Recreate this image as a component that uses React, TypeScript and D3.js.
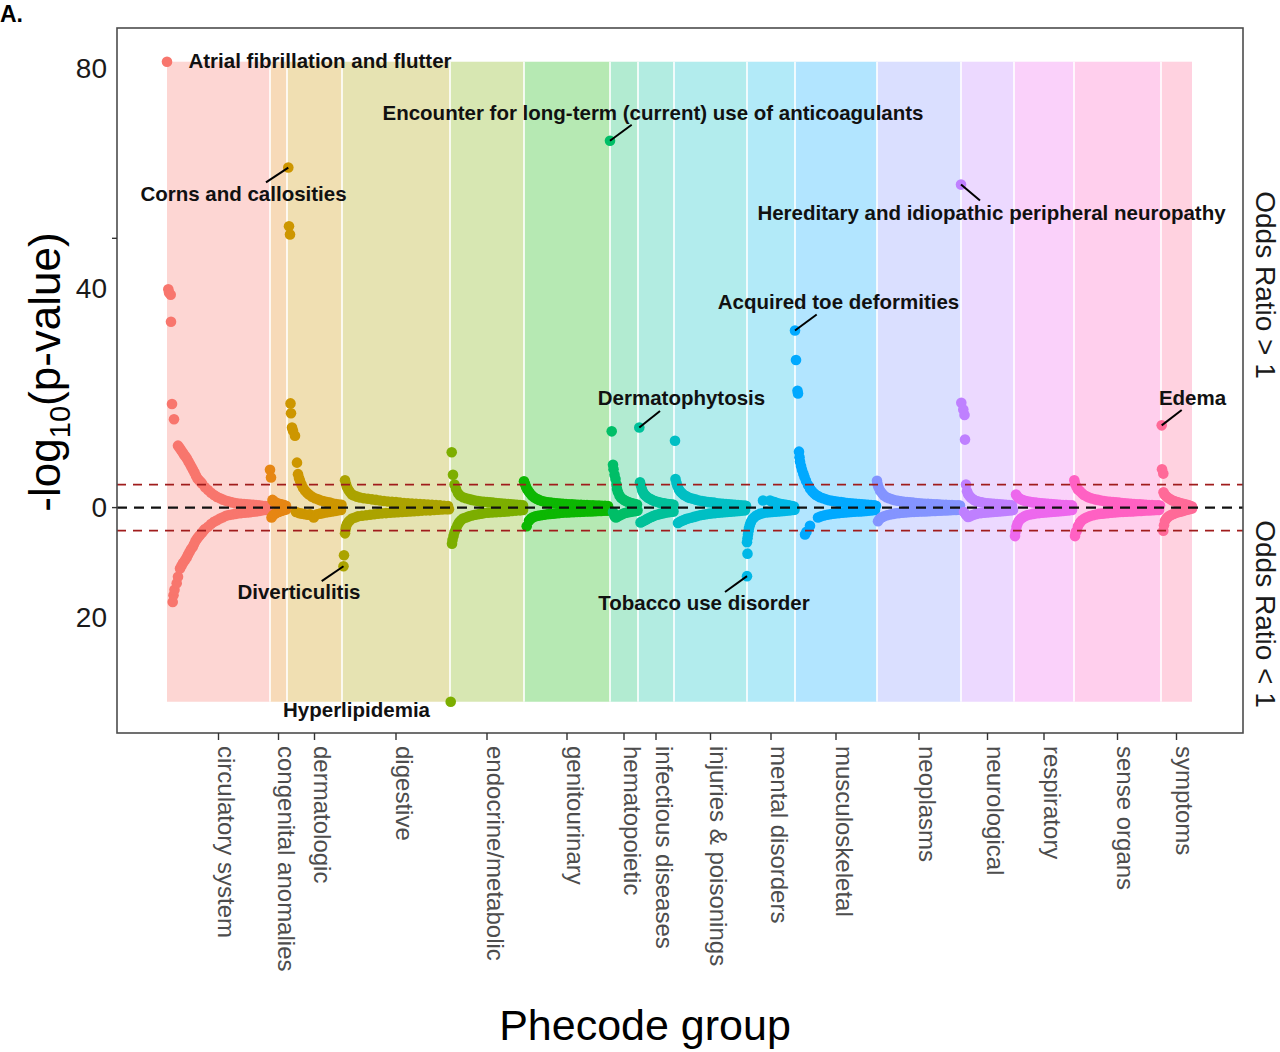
import React from "react";
import * as d3 from "d3";

// ---------- data ----------
const groups = [
  "circulatory system", "congenital anomalies", "dermatologic", "digestive",
  "endocrine/metabolic", "genitourinary", "hematopoietic", "infectious diseases",
  "injuries & poisonings", "mental disorders", "musculoskeletal", "neoplasms",
  "neurological", "respiratory", "sense organs", "symptoms",
];
const groupColors = [
  "#F8766D", "#E68613", "#CD9600", "#ABA300", "#7CAE00", "#0CB702", "#00BE67", "#00C19A",
  "#00BFC4", "#00B8E7", "#00A9FF", "#8494FF", "#BF80FF", "#ED68ED", "#FF61C3", "#FF6A98",
];
// phecode rank boundaries of each group
const bandEdges = [0, 103, 120, 175, 283, 357, 443, 471, 507, 580, 628, 710, 794, 847, 907, 994, 1025];

// [phecode rank, signed -log10(p)]  (positive: OR>1, negative: OR<1)
const circUp = [[0,81.3],[1.3,39.8],[2,39.2],[3.7,38.8],[4,33.9],[5,18.9],[7,16.1],[11,11.3],[12.5,10.9],[14,10.5],[15.5,10.1],[17,9.7],[18.5,9.3],[20,8.9],[21.5,8.4],[23,7.9],[24.5,7.4],[26,6.9],[27.5,6.4],[29,5.8],[30.5,5.3],[32,5.0],[33.5,4.7],[35,4.4],[38,3.7],[41,3.2],[44,2.7],[47,2.3],[50,1.95],[53,1.7],[56,1.45],[59,1.25],[62,1.1],[65,0.95],[68,0.85],[71,0.75],[74,0.7],[77,0.65],[80,0.6],[83,0.55],[86,0.5],[89,0.45],[92,0.4],[95,0.35],[98,0.3],[101,0.25]];
const circDown = [[5.7,-17.2],[6.5,-16.0],[7.5,-15.0],[9.7,-13.8],[11,-12.6],[13,-11.1],[14.5,-10.6],[16,-10.1],[18,-9.6],[19.7,-9.1],[21,-8.6],[22.5,-8.1],[24,-7.6],[25.7,-7.2],[27,-6.7],[28.5,-6.1],[30,-5.7],[31.5,-5.3],[33,-5.0],[35,-4.6],[36.5,-4.2],[38,-3.9],[41,-3.5],[44,-3.0],[47,-2.6],[50,-2.3],[53,-2.0],[56,-1.75],[59,-1.5],[62,-1.35],[65,-1.25],[68,-1.15],[71,-1.05],[74,-1.0],[77,-0.95],[80,-0.9],[83,-0.85],[86,-0.75],[89,-0.7],[92,-0.6],[95,-0.5],[98,-0.45],[101,-0.4]];
const congUp = [[103,6.9],[104,5.5],[105.5,1.4],[107,1.1],[109,0.9],[111,0.75],[113,0.65],[115,0.55],[117,0.45],[119,0.35]];
const congDown = [[104.5,-1.8],[106,-1.4],[108,-1.1],[110,-0.9],[112,-0.75],[114,-0.6],[116,-0.5],[118,-0.4],[119.5,-0.3]];
const dermUp = [[121.3,62.0],[122,51.3],[123,49.8],[123.5,19.0],[124,17.2],[125,14.6],[126,14.0],[128,13.1],[130,8.2],[131,6.1],[132,5.4],[133,4.9],[134.5,4.2],[136,3.6],[138,3.1],[140,2.7],[142,2.4],[145,2.0],[148,1.7],[151,1.5],[154,1.3],[157,1.15],[160,1.0],[163,0.9],[166,0.75],[169,0.65],[172,0.55],[174.5,0.5]];
const dermDown = [[129,-0.8],[132,-1.0],[135,-1.1],[138,-1.2],[141,-1.3],[143,-1.2],[146.7,-1.8],[150,-1.2],[153,-1.1],[156,-1.0],[159,-0.9],[162,-0.8],[165,-0.7],[168,-0.6],[171,-0.5],[174,-0.45]];
const digUp = [[178,5.0],[179,4.3],[180,3.7],[181.5,3.2],[183,2.8],[185,2.4],[187,2.2],[190,2.0],[193,1.85],[197,1.7],[201,1.6],[205,1.5],[209,1.4],[213,1.3],[217,1.2],[221,1.1],[225,1.05],[229,1.0],[233,0.9],[237,0.85],[241,0.8],[245,0.75],[249,0.7],[253,0.65],[257,0.6],[261,0.55],[265,0.5],[269,0.45],[273,0.4],[277,0.35],[281,0.3]];
const digDown = [[176.5,-10.7],[177,-8.7],[178,-4.7],[178.5,-4.0],[179,-3.5],[180,-3.0],[181.5,-2.6],[183,-2.3],[185,-2.0],[188,-1.8],[191,-1.6],[195,-1.5],[199,-1.4],[203,-1.3],[207,-1.2],[211,-1.1],[215,-1.05],[219,-1.0],[223,-0.95],[227,-0.9],[231,-0.85],[235,-0.8],[239,-0.75],[243,-0.7],[247,-0.65],[251,-0.6],[255,-0.55],[259,-0.5],[263,-0.5],[267,-0.45],[271,-0.4],[275,-0.35],[279,-0.3],[282,-0.3]];
const endoUp = [[284.7,10.1],[286,6.0],[287.5,4.2],[289,3.4],[291,2.6],[293,2.2],[296,1.9],[299,1.7],[302,1.55],[305,1.4],[308,1.3],[311,1.2],[314,1.1],[317,1.05],[320,1.0],[323,0.95],[326,0.9],[329,0.85],[332,0.8],[335,0.75],[338,0.7],[341,0.65],[344,0.6],[347,0.55],[350,0.5],[353,0.45],[356,0.4]];
const endoDown = [[283.7,-35.4],[285,-6.6],[285.5,-5.9],[286.5,-5.2],[287.5,-4.5],[289,-3.8],[290.5,-3.2],[292,-2.7],[294,-2.3],[296,-2.0],[299,-1.8],[302,-1.6],[305,-1.45],[308,-1.3],[311,-1.2],[314,-1.1],[317,-1.0],[321,-0.95],[325,-0.9],[329,-0.85],[333,-0.8],[337,-0.75],[341,-0.7],[345,-0.6],[349,-0.55],[353,-0.5],[356,-0.45]];
const genUp = [[357,4.8],[358,4.3],[359,3.8],[360,3.4],[361.5,3.0],[363,2.6],[365,2.2],[367,1.9],[369.5,1.6],[372,1.4],[375,1.2],[378,1.05],[381,0.95],[384,0.9],[387,0.85],[390,0.8],[393,0.75],[396,0.7],[399,0.65],[402,0.6],[405,0.58],[408,0.55],[411,0.52],[414,0.5],[417,0.48],[420,0.45],[423,0.42],[426,0.4],[429,0.38],[432,0.36],[435,0.34],[438,0.32],[441,0.3]];
const genDown = [[359.7,-3.4],[362,-2.4],[364,-2.0],[366,-1.75],[368.5,-1.6],[371,-1.5],[374,-1.4],[377,-1.3],[380,-1.2],[383,-1.15],[386,-1.1],[389,-1.05],[392,-1.0],[395,-0.95],[398,-0.9],[401,-0.88],[404,-0.85],[407,-0.82],[410,-0.8],[413,-0.78],[416,-0.75],[419,-0.72],[422,-0.7],[425,-0.68],[428,-0.65],[431,-0.62],[434,-0.6],[437,-0.58],[440,-0.55],[442,-0.5]];
const hemUp = [[443,66.9],[444.7,13.9],[446,7.8],[446.5,7.0],[447.5,6.0],[448.5,5.2],[449.5,4.2],[450,3.4],[451,2.8],[452.5,2.2],[454,1.8],[456,1.5],[458,1.3],[460,1.1],[462,0.95],[464,0.85],[466,0.75],[468,0.65],[470,0.55]];
const hemDown = [[446,-0.8],[447.5,-1.6],[449,-1.8],[451,-1.6],[453,-1.4],[455,-1.2],[457,-1.05],[459,-0.95],[461,-0.85],[463,-0.8],[465,-0.7],[467,-0.65],[469,-0.6],[470.5,-0.55]];
const infUp = [[472.3,14.6],[473,4.6],[474,4.0],[475,3.3],[476,2.8],[477.5,2.4],[479,2.1],[481,1.8],[483,1.6],[485,1.4],[487,1.25],[489,1.1],[491,1.0],[493,0.9],[495,0.85],[497,0.8],[499,0.7],[501,0.65],[503,0.6],[505,0.55],[506.5,0.5]];
const infDown = [[473.5,-2.7],[475,-2.6],[477,-2.4],[479,-2.2],[481,-2.0],[483,-1.8],[485,-1.65],[487,-1.5],[489,-1.35],[491,-1.25],[493,-1.15],[495,-1.05],[497,-1.0],[499,-0.9],[501,-0.85],[503,-0.8],[505,-0.75],[506.5,-0.7]];
const injUp = [[508,12.2],[508.5,5.2],[509.5,4.5],[510.5,3.9],[512,3.3],[513.5,2.9],[515,2.6],[517,2.3],[519,2.1],[521,1.9],[523,1.75],[526,1.6],[529,1.45],[532,1.3],[535,1.2],[538,1.1],[541,1.0],[544,0.95],[547,0.9],[550,0.8],[553,0.75],[556,0.7],[559,0.65],[562,0.6],[565,0.55],[568,0.5],[571,0.45],[574,0.42],[577,0.38],[579,0.35]];
const injDown = [[511,-2.8],[513,-2.6],[515,-2.4],[517,-2.25],[519,-2.1],[521,-2.0],[524,-1.85],[527,-1.7],[530,-1.55],[533,-1.4],[536,-1.3],[539,-1.2],[542,-1.1],[545,-1.05],[548,-1.0],[551,-0.95],[554,-0.9],[557,-0.85],[560,-0.8],[563,-0.75],[566,-0.7],[569,-0.65],[572,-0.6],[575,-0.55],[578,-0.5]];
const mentUp = [[596,1.3],[603,1.3],[605,1.1],[607.5,1.0],[610,0.85],[613,0.7],[616,0.6],[619,0.5],[622,0.4],[625,0.3],[627,0.2]];
const mentDown = [[580,-12.5],[580.5,-8.4],[580,-6.3],[580.5,-5.6],[581,-4.9],[581.5,-4.3],[582,-3.7],[583,-3.1],[584,-2.6],[585.5,-2.1],[587,-1.8],[589,-1.5],[591,-1.3],[593,-1.15],[596,-1.0],[599,-0.9],[602,-0.85],[605,-0.8],[608,-0.75],[611,-0.7],[614,-0.65],[617,-0.6],[620,-0.55],[623,-0.5],[626,-0.45],[627.5,-0.4]];
const muscUp = [[628,32.3],[629,26.9],[630.5,21.3],[631,20.8],[632,10.2],[632.5,9.2],[633,8.4],[634,7.6],[635,6.9],[636.3,6.2],[637.5,5.6],[639,4.9],[641,4.1],[643,3.5],[645,3.0],[647,2.6],[649,2.3],[651,2.1],[653,1.9],[656,1.7],[659,1.5],[662,1.35],[665,1.25],[668,1.15],[671,1.05],[674,1.0],[677,0.9],[680,0.85],[683,0.8],[686,0.75],[689,0.7],[692,0.65],[695,0.6],[698,0.55],[701,0.5],[704,0.45],[707,0.4],[709,0.35]];
const muscDown = [[638,-4.9],[639.5,-4.4],[643,-3.3],[651,-1.8],[654,-1.6],[657,-1.45],[660,-1.3],[663,-1.2],[666,-1.1],[669,-1.05],[672,-1.0],[675,-0.95],[678,-0.9],[681,-0.85],[684,-0.8],[687,-0.75],[690,-0.72],[693,-0.7],[696,-0.65],[699,-0.6],[702,-0.55],[705,-0.5],[708,-0.45]];
const neoUp = [[710,4.9],[710.5,4.3],[711.5,3.7],[713,3.1],[715,2.6],[717,2.2],[719.5,1.9],[722,1.7],[725,1.5],[728,1.35],[731,1.25],[734,1.15],[737,1.05],[740,1.0],[743,0.95],[746,0.9],[749,0.85],[752,0.8],[755,0.75],[758,0.7],[761,0.68],[764,0.65],[767,0.62],[770,0.6],[773,0.55],[776,0.52],[779,0.5],[782,0.47],[785,0.45],[788,0.42],[791,0.4],[793,0.38]];
const neoDown = [[711,-2.5],[712.5,-2.1],[714.5,-1.8],[717,-1.6],[720,-1.4],[723,-1.25],[726,-1.15],[729,-1.05],[732,-1.0],[735,-0.95],[738,-0.9],[741,-0.85],[744,-0.8],[747,-0.78],[750,-0.75],[753,-0.72],[756,-0.7],[759,-0.68],[762,-0.65],[765,-0.62],[768,-0.6],[771,-0.58],[774,-0.55],[777,-0.52],[780,-0.5],[783,-0.48],[786,-0.45],[789,-0.42],[792,-0.4]];
const neurUp = [[794,58.9],[794.3,19.1],[796.3,17.9],[797.5,16.9],[798,12.4],[799,4.2],[800,3.0],[801,2.5],[802.5,2.1],[804,1.8],[806,1.5],[808,1.3],[810,1.15],[812,1.05],[815,0.95],[818,0.85],[821,0.8],[824,0.75],[827,0.7],[830,0.65],[833,0.6],[836,0.55],[839,0.5],[842,0.45],[845,0.4]];
const neurDown = [[797,-0.8],[799,-1.3],[801,-1.7],[803,-1.6],[805,-1.4],[807,-1.25],[809,-1.15],[811,-1.05],[814,-1.0],[817,-0.95],[820,-0.9],[823,-0.85],[826,-0.8],[829,-0.75],[832,-0.7],[835,-0.65],[838,-0.6],[841,-0.55],[844,-0.5],[846,-0.45]];
const respUp = [[849,2.4],[850.5,2.0],[852,1.7],[854,1.5],[856,1.35],[858,1.25],[860,1.15],[863,1.05],[866,0.95],[869,0.9],[872,0.85],[875,0.8],[878,0.75],[881,0.7],[884,0.65],[887,0.6],[890,0.55],[893,0.5],[896,0.48],[899,0.45],[902,0.42],[905,0.4]];
const respDown = [[848,-5.2],[848.5,-4.4],[849.5,-3.5],[850.5,-2.9],[852,-2.4],[854,-2.0],[856,-1.75],[858,-1.55],[860,-1.4],[863,-1.25],[866,-1.15],[869,-1.05],[872,-1.0],[875,-0.95],[878,-0.9],[881,-0.85],[884,-0.8],[887,-0.75],[890,-0.7],[893,-0.65],[896,-0.6],[899,-0.55],[902,-0.5],[905,-0.45]];
const senseUp = [[907.3,5.0],[908,4.4],[909.5,3.8],[911,3.3],[913,3.0],[915,2.6],[917,2.3],[919.5,2.05],[922,1.85],[925,1.65],[928,1.5],[931,1.4],[934,1.3],[937,1.2],[940,1.1],[943,1.05],[946,1.0],[949,0.95],[952,0.9],[955,0.85],[958,0.8],[961,0.75],[964,0.7],[967,0.65],[970,0.6],[973,0.58],[976,0.55],[979,0.5],[982,0.47],[985,0.45],[988,0.42],[991,0.4],[993,0.38]];
const senseDown = [[908,-5.2],[908.7,-4.5],[909.7,-4.2],[911,-3.4],[913,-2.7],[915,-2.3],[917.5,-2.0],[920,-1.75],[923,-1.55],[926,-1.4],[929,-1.25],[932,-1.15],[935,-1.1],[938,-1.05],[941,-1.0],[944,-0.95],[947,-0.9],[950,-0.85],[953,-0.8],[956,-0.78],[959,-0.75],[962,-0.72],[965,-0.7],[968,-0.65],[971,-0.62],[974,-0.6],[977,-0.55],[980,-0.52],[983,-0.5],[986,-0.47],[989,-0.45],[992,-0.42]];
const sympUp = [[994.7,15.0],[995,7.0],[996.3,6.2],[996.5,2.8],[997.5,2.4],[999,2.1],[1001,1.8],[1003,1.55],[1005,1.35],[1007,1.2],[1009,1.05],[1011,0.95],[1013,0.85],[1015,0.75],[1017,0.65],[1019,0.55],[1021,0.45],[1023,0.35],[1025,0.2]];
const sympDown = [[996.3,-4.2],[997,-3.2],[998,-2.4],[999.5,-2.0],[1001,-1.7],[1003,-1.45],[1005,-1.25],[1007,-1.1],[1009,-0.95],[1011,-0.85],[1013,-0.75],[1015,-0.65],[1017,-0.55],[1019,-0.45],[1021,-0.35],[1023,-0.25],[1025,-0.15]];

const groupPoints = [
  [circUp, circDown], [congUp, congDown], [dermUp, dermDown], [digUp, digDown],
  [endoUp, endoDown], [genUp, genDown], [hemUp, hemDown], [infUp, infDown],
  [injUp, injDown], [mentUp, mentDown], [muscUp, muscDown], [neoUp, neoDown],
  [neurUp, neurDown], [respUp, respDown], [senseUp, senseDown], [sympUp, sympDown],
];

const yTickLabels = [80, 40, 0, -20];
const yTickMarks = [0, 49.1];
const threshold = 4.2;

// annotations: point = [group, branch(0 up/1 down), index]; label centre & leader end in data units
const annotations = [
  { text: "Atrial fibrillation and flutter", pt: [0, 0, 0], tx: 153, ty: 81.4, lead: null },
  { text: "Encounter for long-term (current) use of anticoagulants", pt: [6, 0, 0], tx: 486, ty: 71.9, lead: [464.7, 69.8] },
  { text: "Corns and callosities", pt: [2, 0, 0], tx: 76.5, ty: 57.3, lead: [99, 59.3] },
  { text: "Hereditary and idiopathic peripheral neuropathy", pt: [12, 0, 0], tx: 824.5, ty: 53.8, lead: [813, 56.0] },
  { text: "Acquired toe deformities", pt: [10, 0, 0], tx: 671.5, ty: 37.5, lead: [649.7, 35.2] },
  { text: "Dermatophytosis", pt: [7, 0, 0], tx: 514.5, ty: 20.0, lead: [493, 17.6] },
  { text: "Edema", pt: [15, 0, 0], tx: 1025.5, ty: 20.0, lead: [1014.7, 17.8] },
  { text: "Diverticulitis", pt: [3, 1, 0], tx: 132, ty: -15.4, lead: [154.7, -13.4] },
  { text: "Tobacco use disorder", pt: [9, 1, 0], tx: 537, ty: -17.3, lead: [558, -15.4] },
  { text: "Hyperlipidemia", pt: [4, 1, 0], tx: 189.5, ty: -36.9, lead: null },
];

// ---------- layout ----------
const W = 1280, H = 1052;
const panel = { left: 117, right: 1243, top: 28, bottom: 733 };
const FONT = "'Liberation Sans', Arial, Helvetica, sans-serif";

export default function App() {
  const x = d3.scaleLinear().domain([-50, 1076]).range([panel.left, panel.right]);
  const y = d3.scaleLinear().domain([-41.1, 87.45]).range([panel.bottom, panel.top]);

  const allVals = groupPoints.flatMap((g) => g.flatMap((b) => b.map((p) => p[1])));
  const vMax = d3.max(allVals) as number;
  const vMin = d3.min(allVals) as number;

  const tickCenters = groups.map((_, i) => (bandEdges[i] + bandEdges[i + 1]) / 2);

  return (
    <svg width={W} height={H} style={{ position: "absolute", left: 0, top: 0, background: "#fff" }} fontFamily={FONT}>
      <rect width={W} height={H} fill="#fff" />
      {/* bands */}
      {groups.map((g, i) => (
        <rect key={"b" + i} x={x(bandEdges[i])} width={x(bandEdges[i + 1]) - x(bandEdges[i])}
          y={y(vMax)} height={y(vMin) - y(vMax)} fill={groupColors[i]} fillOpacity={0.3} />
      ))}
      {bandEdges.slice(1, -1).map((e, i) => (
        <line key={"s" + i} x1={x(e)} x2={x(e)} y1={y(vMax)} y2={y(vMin)} stroke="#fff" strokeWidth={1.6} />
      ))}
      {/* points */}
      {groupPoints.map((g, gi) =>
        g.map((branch, bi) =>
          branch.map((p, pi) => (
            <circle key={`p${gi}-${bi}-${pi}`} cx={x(p[0])} cy={y(p[1])} r={5.3} fill={groupColors[gi]} />
          ))
        )
      )}
      {/* reference lines */}
      <line x1={panel.left} x2={panel.right} y1={y(threshold)} y2={y(threshold)} stroke="#A01C1C" strokeWidth={1.8} strokeDasharray="9 7" />
      <line x1={panel.left} x2={panel.right} y1={y(-threshold)} y2={y(-threshold)} stroke="#A01C1C" strokeWidth={1.8} strokeDasharray="9 7" />
      <line x1={panel.left} x2={panel.right} y1={y(0)} y2={y(0)} stroke="#111" strokeWidth={2.4} strokeDasharray="10 7" />
      {/* annotations */}
      {annotations.map((a, i) => {
        const p = groupPoints[a.pt[0]][a.pt[1]][a.pt[2]];
        return (
          <g key={"a" + i}>
            {a.lead && (
              <line x1={x(p[0])} y1={y(p[1])} x2={x(a.lead[0])} y2={y(a.lead[1])} stroke="#000" strokeWidth={2} />
            )}
            <text x={x(a.tx)} y={y(a.ty)} dy="0.35em" textAnchor="middle" fontSize={20.5} fontWeight="bold" fill="#111">
              {a.text}
            </text>
          </g>
        );
      })}
      {/* panel border */}
      <rect x={panel.left} y={panel.top} width={panel.right - panel.left} height={panel.bottom - panel.top}
        fill="none" stroke="#4D4D4D" strokeWidth={1.6} />
      {/* y axis */}
      {yTickMarks.map((t) => (
        <line key={"ym" + t} x1={panel.left - 5} x2={panel.left} y1={y(t)} y2={y(t)} stroke="#333" strokeWidth={1.4} />
      ))}
      {yTickLabels.map((t) => (
        <text key={"yl" + t} x={panel.left - 10} y={y(t)} dy="0.34em" textAnchor="end" fontSize={28} fill="#1a1a1a">
          {Math.abs(t)}
        </text>
      ))}
      <text transform={`translate(60,372) rotate(-90)`} textAnchor="middle" fontSize={44} fill="#000">
        <tspan>-log</tspan>
        <tspan fontSize={29} dy={10}>10</tspan>
        <tspan dy={-10}>(p-value)</tspan>
      </text>
      {/* x axis */}
      {tickCenters.map((c, i) => (
        <g key={"xt" + i}>
          <line x1={x(c)} x2={x(c)} y1={panel.bottom} y2={panel.bottom + 7} stroke="#333" strokeWidth={1.4} />
          <text transform={`translate(${x(c)},${panel.bottom + 13}) rotate(90)`} dy="0.02em" textAnchor="start" fontSize={24} fill="#4D4D4D">
            {groups[i]}
          </text>
        </g>
      ))}
      <text x={645} y={1040} textAnchor="middle" fontSize={43} fill="#000">Phecode group</text>
      {/* right-side labels */}
      <text transform={`translate(1256,285) rotate(90)`} textAnchor="middle" fontSize={28} fill="#1a1a1a">Odds Ratio &gt; 1</text>
      <text transform={`translate(1256,614) rotate(90)`} textAnchor="middle" fontSize={28} fill="#1a1a1a">Odds Ratio &lt; 1</text>
      <text x={0} y={22} fontSize={23} fontWeight="bold" fill="#000">A.</text>
    </svg>
  );
}
